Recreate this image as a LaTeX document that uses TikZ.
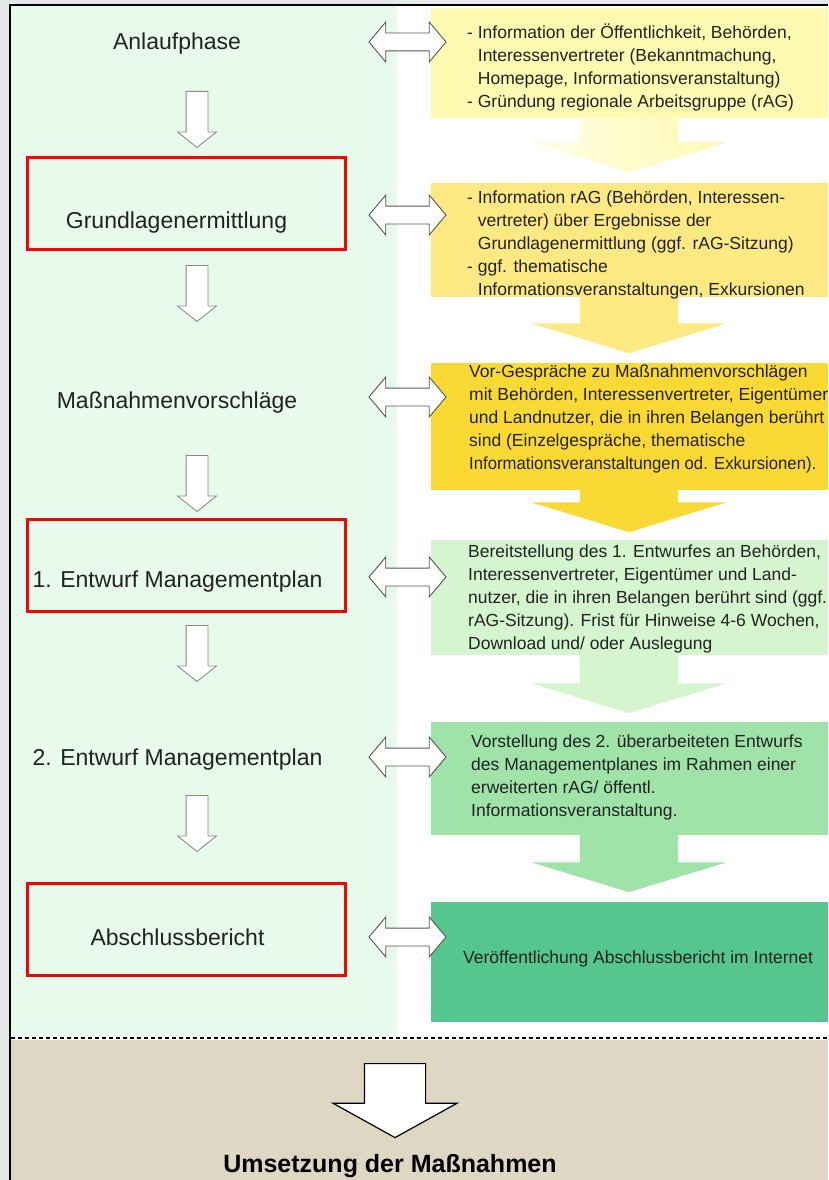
\documentclass[tikz,border=0pt]{standalone}
\usepackage{fontspec}
\setmainfont{Liberation Sans}
\usetikzlibrary{shapes.arrows}
\definecolor{outerg}{HTML}{E4E8E8}
\definecolor{colgreen}{HTML}{E8FAEB}
\definecolor{beige}{HTML}{DDD7C3}
\definecolor{bA}{HTML}{FFFAB2}
\definecolor{bB}{HTML}{FFE983}
\definecolor{bC}{HTML}{FAD934}
\definecolor{bD}{HTML}{D5F5CF}
\definecolor{bE}{HTML}{9FE3A9}
\definecolor{bF}{HTML}{55C68D}
\definecolor{txt}{HTML}{222222}
\definecolor{arrgray}{HTML}{8A8A8A}
\definecolor{darrgray}{HTML}{555555}
\tikzset{
  stage/.style={font=\fontsize{23}{27}\selectfont, text=txt, inner sep=0pt, text height=16pt, text depth=0pt},
  redbox/.style={draw=red, line width=2.5pt, inner sep=0pt, anchor=north west, minimum width=318pt, minimum height=92pt},
  infobox/.style={inner sep=0pt, anchor=north west, minimum width=397pt},
  info/.style={font=\fontsize{17.5}{23}\selectfont, text=txt, align=left, anchor=north west, inner sep=0pt},
  downarr/.style={single arrow, draw=arrgray, fill=white, line width=0.9pt, rotate=-90, anchor=tail, inner xsep=0pt, inner ysep=10.5pt, single arrow head extend=8.5pt, single arrow tip angle=103, minimum height=56pt},
  bigarr/.style={single arrow, rotate=-90, anchor=tail, inner xsep=0pt, inner ysep=49pt, single arrow head extend=48.5pt, single arrow tip angle=146},
  dblarr/.style={double arrow, draw=darrgray, fill=white, line width=0.9pt, inner xsep=0pt, inner ysep=8.5pt, double arrow head extend=11pt, double arrow tip angle=100, minimum height=77pt},
}
\begin{document}
\begin{tikzpicture}[x=1pt,y=-1pt]
\useasboundingbox (0,0) rectangle (828,1180);
% backgrounds
\fill[outerg] (0,0) rectangle (828,1180);
\fill[colgreen] (11,6) rectangle (397,1036);
\fill[white] (397,6) rectangle (828,1036);
\fill[white] (11,1036) rectangle (828,1040);
\fill[beige] (11,1040) rectangle (828,1180);
\draw[line width=2pt, dash pattern=on 4pt off 3pt] (11,1038) -- (828,1038);
\draw[line width=2pt] (10,1180) -- (10,5) -- (828,5);

% right boxes
\node[infobox, fill=bA, minimum height=110pt] (b1) at (431,8) {};
\node[infobox, fill=bB, minimum height=114pt] (b2) at (431,183) {};
\node[infobox, fill=bC, minimum height=127pt] (b3) at (431,363) {};
\node[infobox, fill=bD, minimum height=115pt] (b4) at (431,540) {};
\node[infobox, fill=bE, minimum height=113pt] (b5) at (431,722) {};
\node[infobox, fill=bF, minimum height=120pt] (b6) at (431,902) {};

% big arrows between boxes
\node[bigarr, left color=bA!30!white, right color=bA, minimum height=54pt] (a1) at (629,118) {};
\node[bigarr, fill=bB, minimum height=56pt] (a2) at (629,297) {};
\node[bigarr, fill=bC, minimum height=42pt] (a3) at (629,490) {};
\node[bigarr, fill=bD, minimum height=58pt] (a4) at (629,655) {};
\node[bigarr, fill=bE, minimum height=57pt] (a5) at (629,835) {};

% texts in boxes
\node[info] (t1) at (467,22.3) {\rule{0pt}{16pt}- Information der Öffentlichkeit, Behörden,\\
\phantom{- }Interessenvertreter (Bekanntmachung,\\
\phantom{- }Homepage, Informationsveranstaltung)\\
- Gründung regionale Arbeitsgruppe (rAG)};
\node[info] (t2) at (467,187.3) {\rule{0pt}{16pt}- Information rAG (Behörden, Interessen-\\
\phantom{- }vertreter) über Ergebnisse der\\
\phantom{- }Grundlagenermittlung (ggf. rAG-Sitzung)\\
- ggf. thematische\\
\phantom{- }Informationsveranstaltungen, Exkursionen};
\node[info] (t3) at (469,361.3) {\rule{0pt}{16pt}Vor-Gespräche zu Maßnahmenvorschlägen\\
mit Behörden, Interessenvertreter, Eigentümer\\
und Landnutzer, die in ihren Belangen berührt\\
sind (Einzelgespräche, thematische\\
\scalebox{0.955}[1]{Informationsveranstaltungen od. Exkursionen).}};
\node[info] (t4) at (468,541.3) {\rule{0pt}{16pt}Bereitstellung des 1. Entwurfes an Behörden,\\
Interessenvertreter, Eigentümer und Land-\\
nutzer, die in ihren Belangen berührt sind (ggf.\\
rAG-Sitzung). Frist für Hinweise 4-6 Wochen,\\
Download und/ oder Auslegung};
\node[info] (t5) at (471,731.3) {\rule{0pt}{16pt}Vorstellung des 2. überarbeiteten Entwurfs\\
des Managementplanes im Rahmen einer\\
erweiterten rAG/ öffentl.\\
Informationsveranstaltung.};
\node[info] (t6) at (463,947.3) {\rule{0pt}{16pt}Veröffentlichung Abschlussbericht im Internet};

% red boxes
\node[redbox] (r1) at (26,156) {};
\node[redbox] (r2) at (26,518) {};
\node[redbox] (r3) at (26,882) {};

% stage labels
\node[stage] (s1) at (177,42) {Anlaufphase};
\node[stage] (s2) at (176.5,220) {Grundlagenermittlung};
\node[stage] (s3) at (177,400) {Maßnahmenvorschläge};
\node[stage] (s4) at (177.5,579) {1. Entwurf Managementplan};
\node[stage] (s5) at (177.5,757) {2. Entwurf Managementplan};
\node[stage] (s6) at (177.5,937) {Abschlussbericht};

% down arrows
\node[downarr] (d1) at (197,91) {};
\node[downarr] (d2) at (197,265) {};
\node[downarr] (d3) at (197,455) {};
\node[downarr] (d4) at (197,625) {};
\node[downarr] (d5) at (197,795) {};

% double arrows
\node[dblarr] (x1) at (407.5,42) {};
\node[dblarr] (x2) at (407.5,215) {};
\node[dblarr] (x3) at (407.5,397) {};
\node[dblarr] (x4) at (407.5,577) {};
\node[dblarr] (x5) at (407.5,757) {};
\node[dblarr] (x6) at (407.5,937) {};

% bottom
\node[single arrow, draw=black, fill=white, line width=1.2pt, rotate=-90, anchor=tail, inner xsep=0pt, inner ysep=30pt, single arrow head extend=31.5pt, single arrow tip angle=122, minimum height=74pt] (fin) at (395,1063) {};
\node[font=\fontsize{25}{30}\selectfont\bfseries, text=black, inner sep=0pt, text height=18pt, text depth=0pt] (ums) at (390,1163) {Umsetzung der Maßnahmen};
\end{tikzpicture}
\end{document}
